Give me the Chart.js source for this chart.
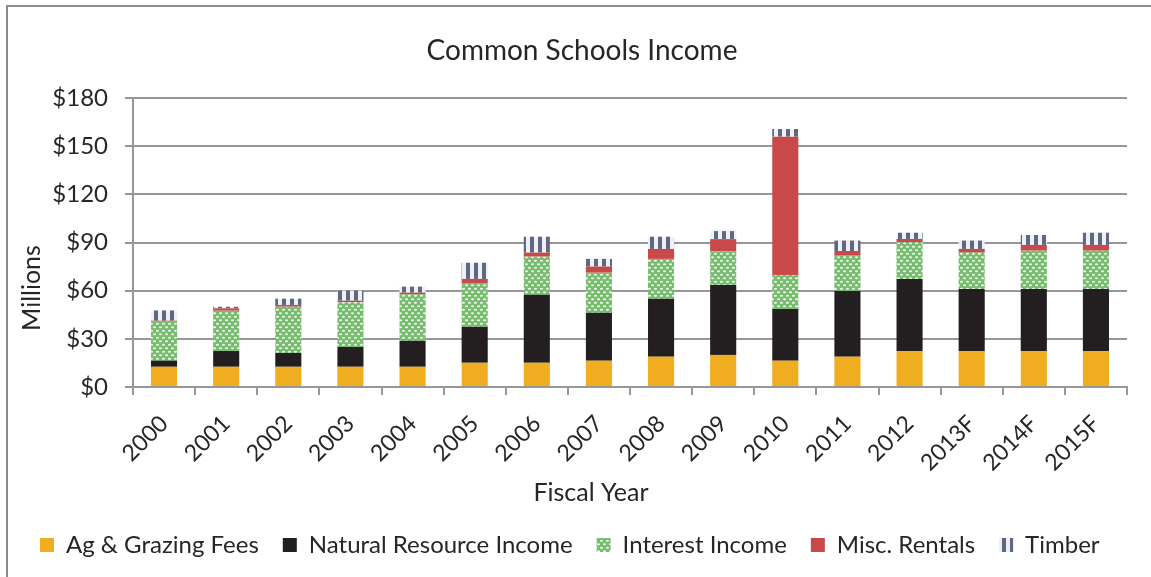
<!DOCTYPE html>
<html>
<head>
<meta charset="utf-8">
<title>Common Schools Income</title>
<script src="https://cdn.jsdelivr.net/npm/chart.js@4.4.1/dist/chart.umd.min.js"></script>
<style>
  html, body { margin: 0; padding: 0; background: #fff; }
  #wrap { width: 1151px; height: 577px; }
</style>
</head>
<body>
<div id="wrap"><canvas id="incomeChart" width="1151" height="577"></canvas></div>
<script>
// fiscal years on the x axis
const years = ['2000', '2001', '2002', '2003', '2004', '2005', '2006', '2007',
               '2008', '2009', '2010', '2011', '2012', '2013F', '2014F', '2015F'];

// income by source, $ millions
const agGrazing   = [12.6, 12.6, 12.6, 12.6, 12.6, 15.1, 15.1, 16.4, 18.9, 20.0, 16.4, 18.9, 22.4, 22.4, 22.4, 22.4];
const natResource = [3.8, 9.8, 8.6, 12.3, 16.2, 22.5, 42.4, 29.9, 36.1, 43.6, 32.2, 40.9, 44.9, 38.7, 38.7, 38.7];
const interest    = [24.7, 25.1, 28.8, 27.9, 28.9, 27.2, 23.7, 24.9, 24.8, 21.0, 21.2, 22.4, 22.9, 22.6, 23.8, 23.8];
const miscRentals = [0.2, 1.5, 1.1, 1.0, 1.1, 2.5, 2.5, 3.8, 6.2, 7.5, 86.1, 2.5, 2.0, 2.3, 3.6, 3.6];
const timber      = [6.4, 1.0, 3.9, 6.2, 3.7, 10.1, 9.9, 4.8, 7.6, 5.0, 4.8, 6.5, 3.9, 5.2, 6.2, 7.6];

// y axis tick values
const yTicks = [0, 30, 60, 90, 120, 150, 180];

const gridGray = '#979797';
const textColor = '#262626';
const fontFamily = 'Lato, "Open Sans", sans-serif';

Chart.defaults.font.family = fontFamily;
Chart.defaults.color = textColor;

// green with white dots for interest income
function dotPattern() {
    const c = document.createElement('canvas');
    c.width = 6; c.height = 7;
    const g = c.getContext('2d');
    g.fillStyle = '#77bc6f';
    g.fillRect(0, 0, 6, 7);
    g.fillStyle = 'rgba(255,255,255,0.85)';
    [[1.5, 1.75], [4.5, 5.25]].forEach(([x, y]) => {
        g.beginPath();
        g.ellipse(x, y, 1.6, 1.0, 0, 0, Math.PI * 2);
        g.fill();
    });
    return g.createPattern(c, 'repeat');
}

// vertical slate stripes for timber
function stripePattern() {
    const c = document.createElement('canvas');
    c.width = 8; c.height = 4;
    const g = c.getContext('2d');
    g.fillStyle = '#eef0f4';
    g.fillRect(0, 0, 8, 4);
    g.fillStyle = '#5e6883';
    g.fillRect(2, 0, 4, 4);
    return g.createPattern(c, 'repeat');
}

// frame around the chart, the title and the two axis titles
const extrasPlugin = {
    id: 'extras',
    beforeDraw(chart) {
        const ctx = chart.ctx;
        ctx.save();
        ctx.fillStyle = '#fff';
        ctx.fillRect(0, 0, chart.width, chart.height);
        ctx.strokeStyle = '#8c8c8c';
        ctx.lineWidth = 2;
        ctx.strokeRect(7, 6, chart.width + 20, chart.height + 20);
        ctx.restore();
    },
    afterDraw(chart) {
        const ctx = chart.ctx;
        ctx.save();
        ctx.fillStyle = textColor;
        ctx.textAlign = 'center';
        ctx.textBaseline = 'middle';
        ctx.font = '28px ' + fontFamily;
        ctx.fillText('Common Schools Income', 582, 51);
        ctx.font = '25px ' + fontFamily;
        ctx.fillText('Fiscal Year', 591, 493);
        ctx.translate(32, 288);
        ctx.rotate(-Math.PI / 2);
        ctx.fillText('Millions', 0, 0);
        ctx.restore();
    }
};

const barOpts = { barPercentage: 0.42, categoryPercentage: 1.0, borderWidth: 0 };

new Chart(document.getElementById('incomeChart'), {
    type: 'bar',
    data: {
        labels: years,
        datasets: [
            { label: 'Ag & Grazing Fees', data: agGrazing, backgroundColor: '#efad1f', ...barOpts },
            { label: 'Natural Resource Income', data: natResource, backgroundColor: '#231f20', ...barOpts },
            { label: 'Interest Income', data: interest, backgroundColor: dotPattern(), ...barOpts },
            { label: 'Misc. Rentals', data: miscRentals, backgroundColor: '#c9494a', ...barOpts },
            { label: 'Timber', data: timber, backgroundColor: stripePattern(), ...barOpts }
        ]
    },
    options: {
        responsive: false,
        animation: false,
        layout: { padding: { left: 16, right: 24, top: 98, bottom: 10 } },
        scales: {
            x: {
                stacked: true,
                afterFit: scale => { scale.height = 122; },
                grid: {
                    offset: true,
                    drawOnChartArea: false,
                    drawTicks: true,
                    tickLength: 8,
                    color: gridGray,
                    lineWidth: 2
                },
                border: { display: true, color: gridGray, width: 2 },
                ticks: {
                    autoSkip: false,
                    maxRotation: 45,
                    minRotation: 45,
                    padding: 15,
                    color: textColor,
                    font: { size: 23 }
                }
            },
            y: {
                stacked: true,
                min: 0,
                max: 180,
                afterFit: scale => { scale.width = 117; },
                afterBuildTicks: scale => { scale.ticks = yTicks.map(v => ({ value: v })); },
                grid: { color: gridGray, lineWidth: 2, tickLength: 8 },
                border: { display: true, color: gridGray, width: 2 },
                ticks: {
                    padding: 17,
                    color: textColor,
                    font: { size: 24 },
                    callback: v => '$' + v
                }
            }
        },
        plugins: {
            title: { display: false },
            legend: {
                position: 'bottom',
                align: 'start',
                labels: {
                    boxWidth: 14,
                    boxHeight: 14,
                    padding: 24,
                    color: textColor,
                    font: { size: 24 }
                }
            },
            tooltip: { enabled: false }
        }
    },
    plugins: [extrasPlugin]
});
</script>
</body>
</html>
